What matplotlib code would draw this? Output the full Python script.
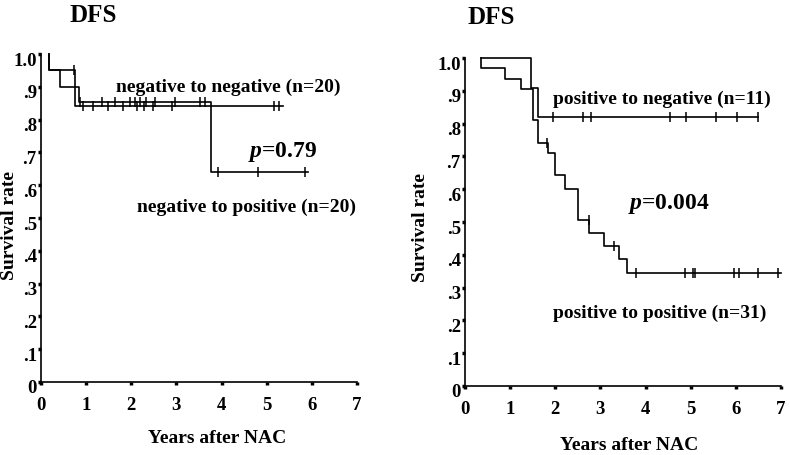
import numpy as np
import matplotlib
matplotlib.use("Agg")
import matplotlib.pyplot as plt
from matplotlib.transforms import ScaledTranslation

plt.rcParams.update({
    "font.family": ["Liberation Serif", "DejaVu Serif"],
    "font.weight": "bold",
    "mathtext.fontset": "custom",
    "mathtext.it": "Liberation Serif:italic:bold",
    "mathtext.rm": "Liberation Serif:bold",
})

# ---- data ----
x_ticks = [0, 1, 2, 3, 4, 5, 6, 7]
y_ticks = [0, 0.1, 0.2, 0.3, 0.4, 0.5, 0.6, 0.7, 0.8, 0.9, 1.0]
y_tick_labels = ["0", ".1", ".2", ".3", ".4", ".5", ".6", ".7", ".8", ".9", "1.0"]

# left panel: negative to negative / negative to positive
nn_times = [0.18, 0.18, 0.75, 5.37]
nn_surv = [1.0, 0.95, 0.84, 0.84]
nn_censor = [0.73, 0.92, 1.16, 1.49, 1.81, 2.13, 2.28, 2.47, 2.90, 5.17, 5.28]

np_times = [0.18, 0.18, 0.41, 0.85, 3.76, 5.92]
np_surv = [1.0, 0.95, 0.90, 0.855, 0.64, 0.64]
np_censor = [0.86, 1.36, 1.64, 1.97, 2.08, 2.19, 2.33, 2.53, 2.97, 3.53, 3.64,
             3.92, 4.80, 5.85]

# right panel: positive to negative / positive to positive
pn_times = [0.36, 1.46, 1.61, 6.50]
pn_surv = [1.0, 0.91, 0.82, 0.82]
pn_censor = [1.96, 2.61, 2.79, 4.55, 4.90, 5.57, 6.02, 6.50]

pp_times = [0.36, 0.36, 0.88, 1.24, 1.51, 1.61, 1.84, 2.00, 2.22, 2.51, 2.75,
            3.08, 3.42, 3.58, 7.0]
pp_surv = [1.0, 0.968, 0.935, 0.905, 0.81, 0.74, 0.71, 0.643, 0.602, 0.507,
           0.466, 0.428, 0.386, 0.345, 0.345]
pp_censor = [1.82, 2.74, 3.29, 3.78, 4.88, 5.06, 5.10, 5.95, 6.08, 6.50, 6.94]


def surv_at(times, surv, t):
    # value of the step curve at each censor time
    idx = np.searchsorted(times, t, side="right") - 1
    return np.array(surv)[np.clip(idx, 0, len(surv) - 1)]


def km(ax, times, surv, censor):
    ax.plot(times, surv, drawstyle="steps-post", color="black", lw=1.2,
            clip_on=False)
    ax.plot(censor, surv_at(times, surv, censor), ls="none", marker="|",
            ms=7, mew=1.1, color="black", clip_on=False)


def setup(ax):
    ax.set_xlim(0, 7)
    ax.set_ylim(0, 1.0)
    ax.set_xticks(x_ticks)
    ax.set_yticks(y_ticks)
    ax.set_yticklabels(y_tick_labels)
    for s in ["top", "right"]:
        ax.spines[s].set_visible(False)
    for s in ["left", "bottom"]:
        ax.spines[s].set_linewidth(1.2)
    ax.tick_params(length=2, width=2.5, labelsize=13.5)
    ax.tick_params(axis="x", pad=8)
    ax.tick_params(axis="y", pad=1)
    # labels sit a little below their ticks in the original
    shift = ScaledTranslation(0, -4 / 100, fig.dpi_scale_trans)
    for lab in ax.get_yticklabels():
        lab.set_transform(lab.get_transform() + shift)
    ax.set_xlabel("Years after NAC", fontsize=14, fontweight="bold")
    ax.set_ylabel("Survival rate", fontsize=14, fontweight="bold")


fig = plt.figure(figsize=(7.9, 4.56), dpi=100)
ax1 = fig.add_axes([41 / 790, 73 / 456, 316 / 790, 328 / 456])
ax2 = fig.add_axes([465 / 790, 69 / 456, 316 / 790, 328 / 456])

setup(ax1)
km(ax1, nn_times, nn_surv, nn_censor)
km(ax1, np_times, np_surv, np_censor)
ax1.text(1.66, 0.90, "negative to negative (n=20)", fontsize=14, va="center")
ax1.text(4.59, 0.704, r"$p$=0.79", fontsize=17, va="center")
ax1.text(2.13, 0.536, "negative to positive (n=20)", fontsize=14, va="center")
ax1.xaxis.set_label_coords(0.558, -0.143)
ax1.yaxis.set_label_coords(-0.073, 0.48)

setup(ax2)
km(ax2, pn_times, pn_surv, pn_censor)
km(ax2, pp_times, pp_surv, pp_censor)
ax2.text(1.95, 0.878, "positive to negative (n=11)", fontsize=14, va="center")
ax2.text(3.61, 0.558, r"$p$=0.004", fontsize=17, va="center")
ax2.text(1.95, 0.226, "positive to positive (n=31)", fontsize=14, va="center")
ax2.xaxis.set_label_coords(0.519, -0.152)
ax2.yaxis.set_label_coords(-0.114, 0.485)

fig.text(93 / 790, 1 - 15 / 456, "DFS", fontsize=18, ha="center", va="center")
fig.text(491.7 / 790, 1 - 17 / 456, "DFS", fontsize=18, ha="center", va="center")

fig.savefig("out.png", dpi=100)
